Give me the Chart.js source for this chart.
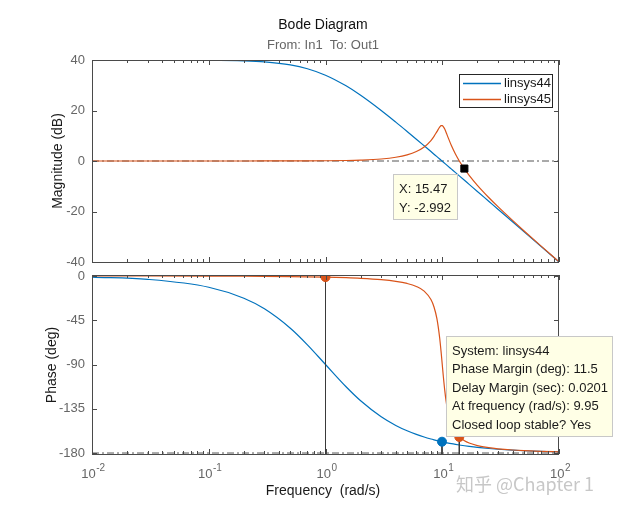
<!DOCTYPE html>
<html>
<head>
<meta charset="utf-8">
<script src="https://cdn.jsdelivr.net/npm/chart.js@4.4.1/dist/chart.umd.min.js"></script>
<style>
  html, body { margin: 0; padding: 0; background: #fff; }
  #wrap { position: relative; width: 618px; height: 511px; }
  canvas { position: absolute; left: 0; top: 0; }
</style>
</head>
<body>
<div id="wrap">
  <canvas id="mag" width="618" height="511"></canvas>
  <canvas id="phase" width="618" height="511"></canvas>
</div>
<script>
// values
const freq    = [0.01, 0.03, 0.1, 0.2, 0.3, 0.5, 0.7, 1, 1.5, 2, 3, 4, 5, 6, 7, 8, 8.5, 9, 9.5, 9.8, 10, 10.2, 10.5, 11, 12, 13, 14, 15.5, 17, 20, 25, 30, 40, 50, 70, 100];
const mag44   = [40.00, 39.99, 39.91, 39.66, 39.25, 38.06, 36.54, 33.98, 29.76, 26.02, 20.00, 15.39, 11.70, 8.64, 6.02, 3.74, 2.70, 1.72, 0.80, 0.26, -0.09, -0.43, -0.93, -1.73, -3.23, -4.61, -5.89, -7.65, -9.25, -12.06, -15.93, -19.09, -24.09, -27.96, -33.81, -40.00];
const mag45   = [0.00, 0.00, 0.00, 0.00, 0.01, 0.02, 0.04, 0.09, 0.19, 0.35, 0.80, 1.48, 2.42, 3.73, 5.53, 8.09, 9.75, 11.64, 13.41, 13.98, 13.98, 13.64, 12.63, 10.34, 6.00, 2.65, 0.00, -3.15, -5.67, -9.62, -14.44, -18.09, -23.53, -27.61, -33.63, -39.91];
const phase44 = [-1.15, -3.44, -11.42, -22.62, -33.40, -53.13, -69.98, -90.00, -112.62, -126.87, -143.13, -151.93, -157.38, -161.08, -163.74, -165.75, -166.58, -167.32, -167.98, -168.35, -168.58, -168.80, -169.12, -169.61, -170.48, -171.20, -171.83, -172.62, -173.27, -174.28, -175.42, -176.18, -177.14, -177.71, -178.36, -178.85];
const phase45 = [-0.01, -0.03, -0.12, -0.23, -0.34, -0.57, -0.81, -1.16, -1.76, -2.39, -3.77, -5.44, -7.59, -10.62, -15.35, -23.96, -31.49, -43.45, -62.83, -78.58, -90.00, -101.20, -116.01, -133.67, -151.39, -159.35, -163.74, -167.54, -169.80, -172.41, -174.56, -175.71, -176.95, -177.61, -178.33, -178.84];

const seriesNames = ['linsys44', 'linsys45'];
const magTicks    = [40, 20, 0, -20, -40];
const phaseTicks  = [0, -45, -90, -135, -180];
const freqTicks   = [0.01, 0.1, 1, 10, 100];
const freqExps    = ['-2', '-1', '0', '1', '2'];

// data tip and margin markers
const tipFreq = 15.47, tipMag = -2.992;
const marginFreq  = [1, 9.95, 14];
const marginPhase = [-1.16, -168.5, -163.7];
const marginSeries = [1, 0, 1];

const BLUE = '#0072BD', RED = '#D95319', AXIS = '#4a4a4a', TXT = '#666666';
const FONT = '"Liberation Sans", Arial, Helvetica, sans-serif';
const W = 618, H = 511;
const LEFT = 92, RIGHT = 559;

function pts(ys) { return freq.map((f, i) => ({ x: f, y: ys[i] })); }

function frameAndTicks(chart, yTicks, showXLabels) {
  const ctx = chart.ctx, a = chart.chartArea;
  const xs = chart.scales.x, ys = chart.scales.y;
  ctx.save();
  ctx.strokeStyle = AXIS;
  ctx.lineWidth = 1;
  ctx.strokeRect(Math.round(a.left) + 0.5, Math.round(a.top) + 0.5, Math.round(a.right - a.left) - 1, Math.round(a.bottom - a.top));
  ctx.beginPath();
  for (let d = -2; d <= 2; d++) {
    for (let k = 1; k <= 9; k++) {
      const v = k * Math.pow(10, d);
      if (v > 100.001) break;
      const px = Math.round(xs.getPixelForValue(v)) + 0.5;
      const len = k === 1 ? 5 : 3;
      ctx.moveTo(px, a.bottom); ctx.lineTo(px, a.bottom - len);
      ctx.moveTo(px, a.top); ctx.lineTo(px, a.top + len);
    }
  }
  yTicks.forEach(t => {
    const py = Math.round(ys.getPixelForValue(t)) + 0.5;
    ctx.moveTo(a.left, py); ctx.lineTo(a.left + 5, py);
    ctx.moveTo(a.right, py); ctx.lineTo(a.right - 5, py);
  });
  ctx.stroke();
  ctx.fillStyle = TXT;
  ctx.font = '13px ' + FONT;
  ctx.textAlign = 'right';
  ctx.textBaseline = 'middle';
  yTicks.forEach(t => ctx.fillText(String(t), a.left - 7, ys.getPixelForValue(t)));
  if (showXLabels) {
    ctx.textBaseline = 'alphabetic';
    ctx.textAlign = 'left';
    freqTicks.forEach((t, i) => {
      ctx.font = '13px ' + FONT;
      const wb = ctx.measureText('10').width;
      ctx.font = '10px ' + FONT;
      const we = ctx.measureText(freqExps[i]).width;
      const x0 = xs.getPixelForValue(t) - (wb + we) / 2 + 1;
      ctx.font = '13px ' + FONT;
      ctx.fillText('10', x0, a.bottom + 24);
      ctx.font = '10px ' + FONT;
      ctx.fillText(freqExps[i], x0 + wb + 0.5, a.bottom + 17);
    });
  }
  ctx.restore();
}

function tipBox(ctx, x, y, w, h, lines, lineGap) {
  ctx.save();
  ctx.fillStyle = '#FFFFE6';
  ctx.strokeStyle = '#c8c8c8';
  ctx.lineWidth = 1;
  ctx.fillRect(x, y, w, h);
  ctx.strokeRect(x + 0.5, y + 0.5, w - 1, h - 1);
  ctx.fillStyle = '#1a1a1a';
  ctx.font = '13px ' + FONT;
  ctx.textAlign = 'left';
  ctx.textBaseline = 'middle';
  lines.forEach((s, i) => ctx.fillText(s, x + 6, y + 15 + i * lineGap));
  ctx.restore();
}

function vTitle(ctx, text, x, y) {
  ctx.save();
  ctx.translate(x, y);
  ctx.rotate(-Math.PI / 2);
  ctx.fillStyle = '#1a1a1a';
  ctx.font = '14px ' + FONT;
  ctx.textAlign = 'center';
  ctx.textBaseline = 'middle';
  ctx.fillText(text, 0, 0);
  ctx.restore();
}

const magDecor = {
  id: 'magDecor',
  afterDraw(chart) {
    const ctx = chart.ctx;
    frameAndTicks(chart, magTicks, false);
    ctx.save();
    ctx.textAlign = 'center';
    ctx.textBaseline = 'middle';
    ctx.fillStyle = '#111';
    ctx.font = '14px ' + FONT;
    ctx.fillText('Bode Diagram', 323, 25);
    ctx.fillStyle = TXT;
    ctx.font = '13px ' + FONT;
    ctx.fillText('From: In1  To: Out1', 323, 45);
    // legend
    ctx.fillStyle = '#fff';
    ctx.fillRect(459, 74, 94, 34);
    ctx.strokeStyle = '#262626';
    ctx.lineWidth = 1;
    ctx.strokeRect(459.5, 74.5, 93, 33);
    [BLUE, RED].forEach((c, i) => {
      const y = 83.5 + i * 16;
      ctx.strokeStyle = c;
      ctx.lineWidth = 1.4;
      ctx.beginPath(); ctx.moveTo(463, y); ctx.lineTo(501, y); ctx.stroke();
      ctx.fillStyle = '#1a1a1a';
      ctx.font = '13px ' + FONT;
      ctx.textAlign = 'left';
      ctx.fillText(seriesNames[i], 504, y);
    });
    ctx.restore();
    vTitle(ctx, 'Magnitude (dB)', 58, 161);
    tipBox(ctx, 393, 174, 65, 46, ['X: ' + tipFreq, 'Y: ' + tipMag], 19);
  }
};

const phaseDecor = {
  id: 'phaseDecor',
  afterDraw(chart) {
    const ctx = chart.ctx;
    frameAndTicks(chart, phaseTicks, true);
    vTitle(ctx, 'Phase (deg)', 52, 365);
    ctx.save();
    ctx.fillStyle = '#1a1a1a';
    ctx.font = '14px ' + FONT;
    ctx.textAlign = 'center';
    ctx.textBaseline = 'middle';
    ctx.fillText('Frequency  (rad/s)', 323, 491);
    ctx.fillStyle = 'rgba(175,175,175,0.7)';
    ctx.font = '18px "Noto Sans CJK SC", ' + FONT;
    ctx.textAlign = 'left';
    ctx.fillText('\u77E5\u4E4E @Chapter 1', 456, 484);
    ctx.restore();
    tipBox(ctx, 446, 336, 167, 101, [
      'System: ' + seriesNames[0],
      'Phase Margin (deg): 11.5',
      'Delay Margin (sec): 0.0201',
      'At frequency (rad/s): ' + marginFreq[1],
      'Closed loop stable? Yes'
    ], 18.6);
  }
};

function baseOptions(yMin, yMax, top, bottom) {
  return {
    responsive: false,
    animation: false,
    devicePixelRatio: 1,
    layout: { padding: { left: LEFT, right: W - RIGHT, top: top, bottom: H - bottom } },
    plugins: { legend: { display: false }, tooltip: { enabled: false }, title: { display: false } },
    elements: { point: { radius: 0 } },
    scales: {
      x: { type: 'logarithmic', min: 0.01, max: 100, display: false },
      y: { type: 'linear', min: yMin, max: yMax, display: false }
    }
  };
}

const curve = (label, data, color, order) => ({
  label, data, borderColor: color, borderWidth: 1.2, pointRadius: 0,
  cubicInterpolationMode: 'monotone', fill: false, order
});
const guide = (data) => ({
  data, borderColor: '#555', borderWidth: 1, borderDash: [7, 3, 2, 3], pointRadius: 0, order: 5
});

new Chart(document.getElementById('mag'), {
  type: 'line',
  data: {
    datasets: [
      curve(seriesNames[0], pts(mag44), BLUE, 2),
      curve(seriesNames[1], pts(mag45), RED, 1),
      guide([{ x: 0.01, y: 0 }, { x: 100, y: 0 }]),
      { data: [{ x: tipFreq, y: tipMag }], showLine: false, pointStyle: 'rect', pointRadius: 5,
        pointBackgroundColor: '#000', pointBorderColor: '#000', order: 0 }
    ]
  },
  options: baseOptions(-40, 40, 60, 262),
  plugins: [magDecor]
});

const phaseSets = [
  curve(seriesNames[0], pts(phase44), BLUE, 2),
  curve(seriesNames[1], pts(phase45), RED, 1),
  guide([{ x: 0.01, y: -180 }, { x: 100, y: -180 }])
];
marginFreq.forEach((f, i) => {
  const c = marginSeries[i] === 0 ? BLUE : RED;
  phaseSets.push({ data: [{ x: f, y: marginPhase[i] }, { x: f, y: -181 }], borderColor: '#3a3a3a',
    borderWidth: 1, pointRadius: 0, order: 0 });
  phaseSets.push({ data: [{ x: f, y: marginPhase[i] }], showLine: false, pointRadius: 4.5,
    pointBackgroundColor: c, pointBorderColor: c, order: -1 });
});

new Chart(document.getElementById('phase'), {
  type: 'line',
  data: { datasets: phaseSets },
  options: baseOptions(-181, 1, 275, 454),
  plugins: [phaseDecor]
});
</script>
</body>
</html>
